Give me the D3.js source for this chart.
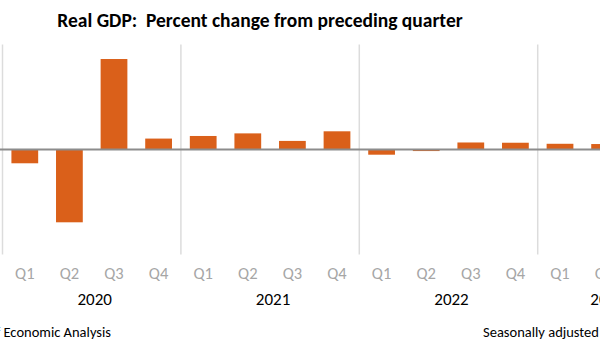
<!DOCTYPE html>
<html>
<head>
<meta charset="utf-8">
<script src="https://cdn.jsdelivr.net/npm/d3@7"></script>
<style>
  body { margin: 0; background: #ffffff; }
  svg { display: block; font-family: Calibri, Carlito, Lato, sans-serif; }
</style>
</head>
<body>
<svg id="chart" width="600" height="342"></svg>
<script>
// Real GDP, percent change from preceding quarter (seasonally adjusted annual rates)
var years = ['2020', '2021', '2022', '2023'];
var quarterNames = ['Q1', 'Q2', 'Q3', 'Q4'];
var periods = ['2020Q1', '2020Q2', '2020Q3', '2020Q4',
               '2021Q1', '2021Q2', '2021Q3', '2021Q4',
               '2022Q1', '2022Q2', '2022Q3', '2022Q4',
               '2023Q1', '2023Q2', '2023Q3'];
var growth = [-5.3, -28.0, 34.8, 4.2,
              5.2, 6.2, 3.3, 7.0,
              -2.0, -0.6, 2.7, 2.6,
              2.2, 2.1, 4.9];

let svg = d3.select('#chart');

// the picture is a crop of a wider chart, so the plot runs off the right edge
let step = 44.6;
let plotLeft = 2.5;
let plotTop = 45.5, plotBottom = 253.5;

let xScale = d3.scaleBand()
  .domain(periods)
  .range([plotLeft, plotLeft + step * periods.length])
  .padding(0);

let yScale = d3.scaleLinear()
  .domain([-40, 40])
  .range([plotBottom, plotTop]);

let barWidth = xScale.bandwidth() * 0.6;

// year separators
let yearStarts = years.map((y) => periods.findIndex((p) => p.startsWith(y)));
svg.append('g').selectAll('line')
  .data(yearStarts)
  .join('line')
  .attr('x1', (i) => xScale(periods[i]))
  .attr('x2', (i) => xScale(periods[i]))
  .attr('y1', plotTop - 1)
  .attr('y2', plotBottom + 1)
  .attr('stroke', '#dcdcdc')
  .attr('stroke-width', 1.5);

// bars
svg.append('g').selectAll('rect')
  .data(periods)
  .join('rect')
  .attr('x', (d) => xScale(d) + (xScale.bandwidth() - barWidth) / 2)
  .attr('width', barWidth)
  .attr('y', (d, i) => yScale(Math.max(0, growth[i])))
  .attr('height', (d, i) => Math.abs(yScale(growth[i]) - yScale(0)))
  .attr('fill', '#da601a');

// zero line
svg.append('line')
  .attr('x1', 0)
  .attr('x2', 600)
  .attr('y1', yScale(0))
  .attr('y2', yScale(0))
  .attr('stroke', '#8c8c8c')
  .attr('stroke-width', 2);

// quarter labels
svg.append('g').selectAll('text')
  .data(periods)
  .join('text')
  .text((d) => d.slice(4))
  .attr('x', (d) => xScale(d) + xScale.bandwidth() / 2)
  .attr('y', 278.5)
  .attr('text-anchor', 'middle')
  .style('fill', '#a6a6a6')
  .style('font-weight', 300)
  .style('font-size', '16.5px');

// year labels
svg.append('g').selectAll('text')
  .data(years)
  .join('text')
  .text((d) => d)
  .attr('x', (d) => {
    let qs = periods.filter((p) => p.startsWith(d));
    return (xScale(qs[0]) + xScale(qs[qs.length - 1]) + xScale.bandwidth()) / 2 + 3;
  })
  .attr('y', 305)
  .attr('text-anchor', 'middle')
  .style('fill', '#000000')
  .style('font-size', '17px');

// title
svg.append('text')
  .text('Real GDP:\u00a0\u00a0Percent change from preceding quarter')
  .attr('x', 260)
  .attr('y', 27)
  .attr('text-anchor', 'middle')
  .style('fill', '#000000')
  .style('font-weight', 'bold')
  .style('font-size', '19.5px');

// footer
svg.append('text')
  .text('U.S. Bureau of Economic Analysis')
  .attr('x', 111)
  .attr('y', 337)
  .attr('text-anchor', 'end')
  .style('fill', '#000000')
  .style('font-size', '14.5px');

svg.append('text')
  .text('Seasonally adjusted annual rates')
  .attr('x', 483)
  .attr('y', 337)
  .style('fill', '#000000')
  .style('font-size', '14.5px');
</script>
</body>
</html>
